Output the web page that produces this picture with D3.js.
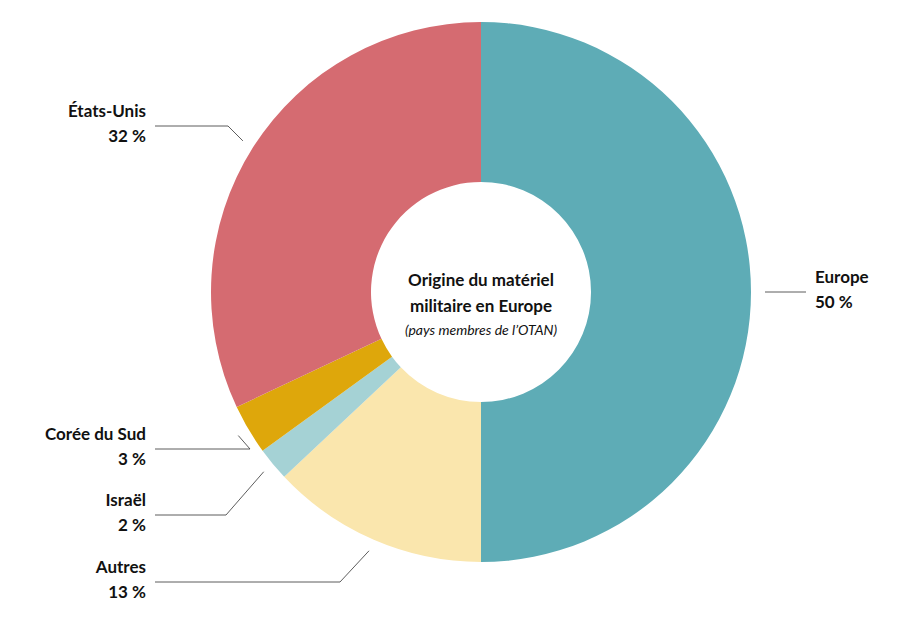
<!DOCTYPE html>
<html><head><meta charset="utf-8">
<script src="https://cdn.jsdelivr.net/npm/d3@7"></script>
<style>body{margin:0;background:#fff}text{font-family:Lato,"Open Sans",sans-serif}</style>
</head><body><svg id="c" width="903" height="624"></svg>
<script>
const categories = ["Europe","Autres","Israël","Corée du Sud","États-Unis"];
const values = [50,13,2,3,32];
const valueLabels = ["50 %","13 %","2 %","3 %","32 %"];
const colors = ["#5eacb6","#fae6ad","#a5d2d5","#dea70b","#d56b71"];
// label anchor layout: [textX, textY, elbowX, side]
const labelLayout = [
  [815,283,806,"start"],
  [146,573,340,"end"],
  [146,506,226,"end"],
  [146,440,250,"end"],
  [146,117,228,"end"]
];
const cx=481, cy=292, R=270, r=110;
const svg=d3.select("#c");
const g=svg.append("g").attr("transform",`translate(${cx},${cy})`);
const pie=d3.pie().sort(null).value(d=>d)(values);
const arc=d3.arc().innerRadius(r).outerRadius(R);
g.selectAll("path").data(pie).join("path").attr("d",arc).attr("fill",(d,i)=>colors[i]);
pie.forEach((d,i)=>{
  const [tx,ty,ex,side]=labelLayout[i];
  const a=(d.startAngle+d.endAngle)/2;
  const px=cx+Math.sin(a)*(R+12), py=cy-Math.cos(a)*(R+12);
  const ly=ty+9;
  const lx0 = side==="end" ? tx+9 : tx-50;
  const pts = side==="end" ? [[lx0,ly],[ex,ly],[px,py]] : [[px,py],[ex,ly]];
  if(side==="start"){pts[0]=[cx+R+14,ly];pts[1]=[ex,ly];}
  svg.append("path").attr("d",d3.line()(pts)).attr("fill","none").attr("stroke","#333").attr("stroke-width",0.8);
  const t=svg.append("text").attr("x",tx).attr("y",ty).attr("text-anchor",side)
    .attr("font-weight","bold").attr("font-size",17).attr("fill","#111");
  t.append("tspan").attr("x",tx).attr("dy",0).text(categories[i]);
  t.append("tspan").attr("x",tx).attr("dy",25).text(valueLabels[i]);
});
svg.append("text").attr("x",cx).attr("y",286).attr("text-anchor","middle").attr("font-weight","bold").attr("font-size",17).attr("fill","#111").text("Origine du matériel");
svg.append("text").attr("x",cx).attr("y",312).attr("text-anchor","middle").attr("font-weight","bold").attr("font-size",17).attr("fill","#111").text("militaire en Europe");
svg.append("text").attr("x",cx).attr("y",335).attr("text-anchor","middle").attr("font-style","italic").attr("font-size",14).attr("fill","#111").text("(pays membres de l’OTAN)");
</script></body></html>
